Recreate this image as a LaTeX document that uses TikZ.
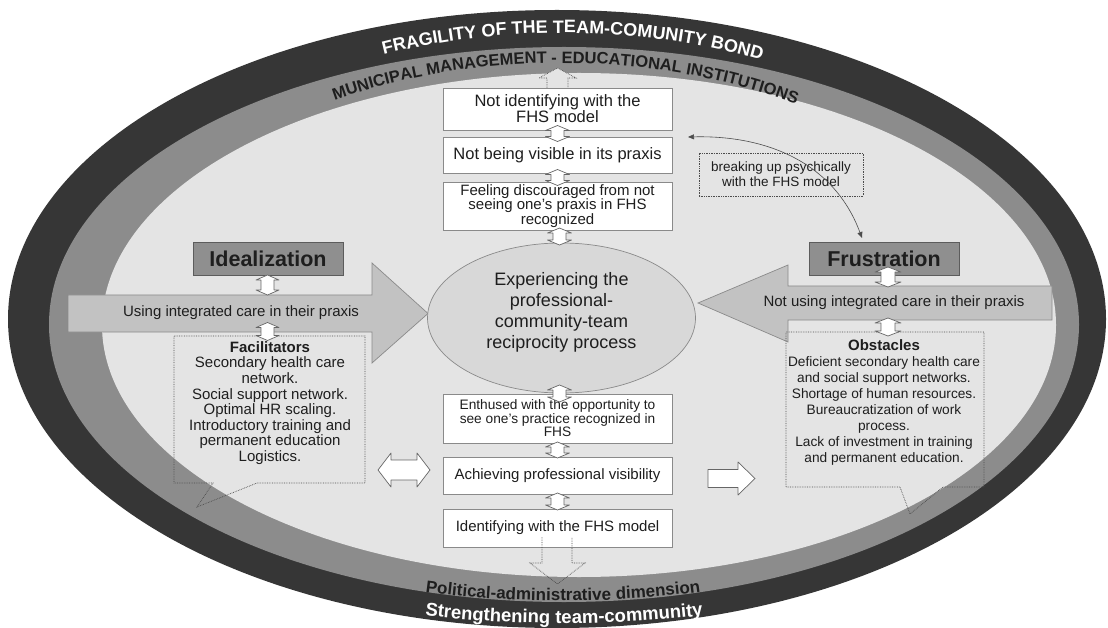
\documentclass[tikz,border=0pt]{standalone}
\usepackage{fontspec}
\setmainfont{Liberation Sans}
\usetikzlibrary{shapes.geometric,arrows.meta,decorations.text,calc}
\definecolor{cdark}{HTML}{363636}
\definecolor{cband}{HTML}{8C8C8C}
\definecolor{clight}{HTML}{E4E4E4}
\definecolor{carrow}{HTML}{C2C2C2}
\definecolor{cedge}{HTML}{8A8A8A}
\definecolor{cfeel}{HTML}{8F8F8F}
\definecolor{cfeeledge}{HTML}{5C5C5C}
\definecolor{ctext}{HTML}{1E1E1E}
\definecolor{cell}{HTML}{D8D8D8}
\tikzset{
  stepbox/.style={draw=cedge, fill=white, line width=0.8pt, minimum width=229pt, align=center, inner sep=1pt, text=ctext},
  feel/.style={draw=cfeeledge, fill=cfeel, line width=0.8pt, minimum width=150pt, minimum height=33pt, inner sep=0pt, font=\fontsize{21.5}{22}\selectfont\bfseries, text=ctext},
  arrowshape/.style={draw=black!60, fill=white, line width=0.7pt, line join=round},
  bigarrow/.style={fill=carrow, draw=cedge, line width=0.7pt},
  dotbox/.style={draw=black!70, densely dotted, line width=0.7pt},
  lbl/.style={text=ctext, align=center, inner sep=0pt},
  pics/vdarr/.style n args={4}{code={
    \draw[arrowshape] (0,-#1) -- (#2,-#1+#4) -- (#3,-#1+#4) -- (#3,#1-#4) -- (#2,#1-#4) -- (0,#1)
      -- (-#2,#1-#4) -- (-#3,#1-#4) -- (-#3,-#1+#4) -- (-#2,-#1+#4) -- cycle;}},
  pics/hdarr/.style n args={4}{code={
    \draw[arrowshape] (-#1,0) -- (-#1+#4,#2) -- (-#1+#4,#3) -- (#1-#4,#3) -- (#1-#4,#2) -- (#1,0)
      -- (#1-#4,-#2) -- (#1-#4,-#3) -- (-#1+#4,-#3) -- (-#1+#4,-#2) -- cycle;}},
  pics/rarr/.style n args={4}{code={
    \draw[arrowshape] (-#1,-#3) -- (#1-#4,-#3) -- (#1-#4,-#2) -- (#1,0) -- (#1-#4,#2) -- (#1-#4,#3)
      -- (-#1,#3) -- cycle;}},
}
\begin{document}
\begin{tikzpicture}[x=1pt,y=-1pt]
\useasboundingbox (0,0) rectangle (1108,628);
% bands
\fill[cdark] (557,319) ellipse [x radius=549pt, y radius=309pt];
\fill[cband] (564,324.5) ellipse [x radius=515pt, y radius=277.5pt];
\fill[clight] (579,325) ellipse [x radius=477pt, y radius=252pt];
% curved texts
\path[decorate, decoration={text along path, text align=center, text color=white,
  text={|\fontsize{18}{18}\selectfont\bfseries|FRAGILITY OF THE TEAM-COMUNITY BOND}}]
  (379.9,55.4) arc[start angle=112.8, end angle=64.4, x radius=470pt, y radius=287pt];
\path[decorate, decoration={text along path, text align=center, text color=ctext,
  text={|\fontsize{16.5}{16.5}\selectfont\bfseries|MUNICIPAL MANAGEMENT - EDUCATIONAL INSTITUTIONS}}]
  (335.3,100.0) arc[start angle=121.1, end angle=57.3, x radius=435pt, y radius=257pt];
\path[decorate, decoration={text along path, text align=center, text color=ctext,
  text={|\fontsize{17}{17}\selectfont\bfseries|Political-administrative dimension}}]
  (418,591) .. controls (510,604) and (615,604) .. (708,591);
\path[decorate, decoration={text along path, text align=center, text color=white,
  text={|\fontsize{18.5}{18.5}\selectfont\bfseries|Strengthening team-community}}]
  (420,615) .. controls (510,626) and (615,626) .. (708,615);
% big arrows
\draw[bigarrow] (68,295) -- (372,295) -- (372,263) -- (428,313.5) -- (372,363) -- (372,332) -- (68,332) -- cycle;
\node[lbl, font=\fontsize{15}{15}\selectfont] (usetext) at (241,313) {Using integrated care in their praxis};
\draw[bigarrow] (1052,286) -- (788,286) -- (788,265) -- (698,303) -- (788,342) -- (788,320) -- (1052,320) -- cycle;
\node[lbl, font=\fontsize{15}{15}\selectfont] (notusetext) at (894,303) {Not using integrated care in their praxis};
% feelings
\node[feel] (ideal) at (268,259) {Idealization};
\node[feel] (frus) at (884,258.5) {Frustration};
% central column
\node[stepbox, minimum height=42pt, font=\fontsize{16.5}{16}\selectfont] (b1) at (557.5,109) {Not identifying with the\\FHS model};
\node[stepbox, minimum height=36pt, font=\fontsize{16.5}{16}\selectfont] (b2) at (557.5,155) {Not being visible in its praxis};
\node[stepbox, minimum height=48pt, font=\fontsize{15}{14.5}\selectfont] (b3) at (557.5,206) {Feeling discouraged from not\\seeing one's praxis in FHS\\recognized};
\node[ellipse, draw=cedge, fill=cell, line width=0.7pt, minimum width=268pt, minimum height=150pt, inner sep=0pt] (core) at (561.5,318) {};
\node[lbl, font=\fontsize{18}{21}\selectfont] (coretext) at (561.5,312) {Experiencing the\\professional-\\community-team\\reciprocity process};
\node[stepbox, minimum height=49pt, font=\fontsize{13.7}{13.5}\selectfont] (b4) at (557.5,418.5) {Enthused with the opportunity to\\see one's practice recognized in\\FHS};
\node[stepbox, minimum height=37pt, font=\fontsize{15}{15}\selectfont] (b5) at (557.5,475.5) {Achieving professional visibility};
\node[stepbox, minimum height=38pt, font=\fontsize{15}{15}\selectfont] (b6) at (557.5,528) {Identifying with the FHS model};
% dotted arrows
\draw[dotbox, fill=clight] (547,88) -- (547,78) -- (539,78) -- (557.5,68) -- (576,78) -- (568,78) -- (568,88);
\draw[dotbox] (542,537) -- (542,563) -- (530,563) -- (557.5,584) -- (585,563) -- (572,563) -- (572,537);
% callout boxes
\draw[dotbox] (174,336) -- (365,336) -- (365,483) -- (257,483) -- (197,507) -- (213,483) -- (174,483) -- cycle;
\node[lbl, font=\fontsize{15}{15.6}\selectfont] (facil) at (270,403) {\textbf{Facilitators}\\Secondary health care\\network.\\Social support network.\\Optimal HR scaling.\\Introductory training and\\permanent education\\Logistics.};
\draw[dotbox] (786,332) -- (984,332) -- (984,487) -- (943,487) -- (910,514) -- (900,487) -- (786,487) -- cycle;
\node[lbl, font=\fontsize{13.7}{16}\selectfont] (obst) at (884,402.5) {{\fontsize{15}{16}\selectfont\bfseries Obstacles}\\Deficient secondary health care\\and social support networks.\\Shortage of human resources.\\Bureaucratization of work\\process.\\Lack of investment in training\\and permanent education.};
\node[dotbox, minimum width=164pt, minimum height=43pt, align=center, text=ctext, inner sep=0pt, font=\fontsize{13.5}{15}\selectfont] (brk) at (781,174.5) {breaking up psychically\\with the FHS model};
% small double arrows
\pic (a12) at ($(b1.south)!0.5!(b2.north)$) {vdarr={8}{12}{6.5}{5}};
\pic (a23) at ($(b2.south)!0.5!(b3.north)$) {vdarr={8}{12}{6.5}{5}};
\pic (a3c) at ($(b3.south)!0.5!(core.north)$) {vdarr={8.5}{12}{6.5}{5}};
\pic (ac4) at ($(core.south)!0.5!(b4.north)$) {vdarr={8.5}{12}{6.5}{5}};
\pic (a45) at ($(b4.south)!0.5!(b5.north)$) {vdarr={8}{12}{6.5}{5}};
\pic (a56) at ($(b5.south)!0.5!(b6.north)$) {vdarr={8.5}{12}{6.5}{5}};
\pic (ia1) at (267.5,285) {vdarr={10}{11.5}{6.5}{5}};
\pic (ia2) at (267.5,331.5) {vdarr={9}{11.5}{6.5}{5}};
\pic (fa1) at (888,277) {vdarr={10}{13}{7}{5}};
\pic (fa2) at (888,327) {vdarr={9}{13}{7}{5}};
\pic (hd) at (404,470) {hdarr={26}{17}{10}{13}};
\pic (rs) at (731.5,478.5) {rarr={23.5}{16.5}{9}{17}};
% curved connector
\coordinate (cv1) at (688,137);
\coordinate (cv2) at (862,238);
\draw[{Triangle[length=6pt,width=5pt]}-{Triangle[length=6pt,width=5pt]}, draw=black!70, line width=0.6pt] (cv1) .. controls (770,135) and (835,165) .. (cv2);
\end{tikzpicture}
\end{document}
